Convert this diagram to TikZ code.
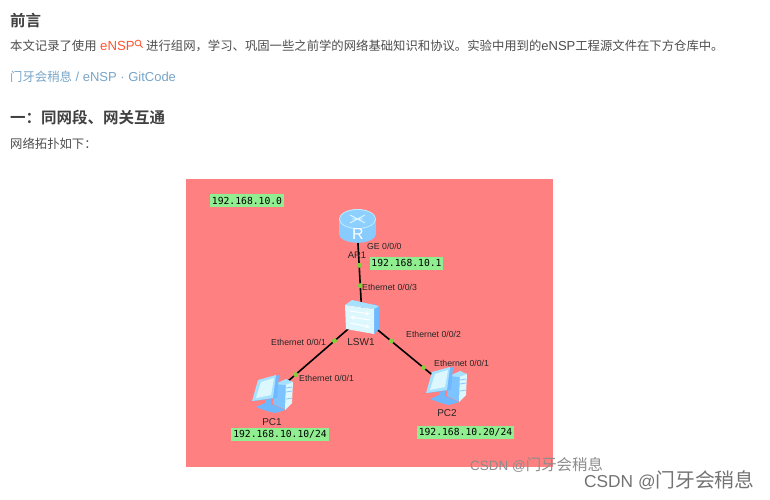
\documentclass[tikz,border=0pt]{standalone}
\usepackage{fontspec}
\setmainfont{Liberation Sans}
\setmonofont{DejaVu Sans Mono}
\newfontfamily\cjk{Noto Sans CJK SC}
\newfontfamily\cjkb{Noto Sans CJK SC Bold}
\newcommand{\fs}[1]{\fontsize{#1}{#1}\selectfont}
\newcommand{\lat}{\fontspec{Liberation Sans}}
\definecolor{bodytxt}{HTML}{4D4D4D}
\definecolor{headtxt}{HTML}{404040}
\definecolor{linktxt}{HTML}{78A5C8}
\definecolor{hot}{HTML}{FC5531}
\definecolor{panel}{HTML}{FF8080}
\definecolor{tag}{HTML}{90EE90}
\definecolor{dotc}{HTML}{7FD03A}
\definecolor{iconA}{HTML}{A6E2FF}
\definecolor{iconB}{HTML}{6FB8FF}
\definecolor{iconC}{HTML}{DDF7FF}
\tikzset{
  x=1pt,y=-1pt,
  body/.style={anchor=west,inner sep=0pt,text=bodytxt,font=\cjk\fs{12.35}},
  head/.style={anchor=west,inner sep=0pt,text=headtxt,font=\cjkb\fs{15.5}},
  tagbox/.style={fill=tag,inner sep=0pt,minimum height=13pt,font=\ttfamily\fs{9.7},text=black},
  port/.style={anchor=west,inner sep=0pt,text=black!85,font=\fs{8.7}},
  devname/.style={inner sep=0pt,text=black!85,font=\fs{10}},
  anchorbox/.style={inner sep=0pt,minimum size=2pt},
  link/.style={line width=1.6pt,black},
  dotmark/.style={circle,fill=dotc,inner sep=0pt,minimum size=5pt},
  mark wm/.style={inner sep=0pt,text=black!45}
}
\newcommand{\pcicon}[2]{%
\begin{scope}[shift={(#1,#2)}]
  % tower
  \fill[iconB!75!iconA] (22,-11) -- (33,-16) -- (33,14) -- (20,8) -- cycle;
  \fill[iconC] (33,-15) -- (40,-14) -- (39,7) -- (32,14) -- cycle;
  \fill[iconA] (22,-12) -- (33,-17) -- (40,-14) -- (32,-11) -- cycle;
  \draw[iconB!60!iconA,line width=.8pt] (33,-8) -- (39,-9) (33,-4) -- (39,-5) (33,3) -- (39,2);
  % stand
  \fill[iconB] (12,4) -- (18,3) -- (18,8) -- (32,14) -- (22,17) -- (14,15) -- (3,11) -- (12,7) -- cycle;
  % monitor
  \fill[iconB] (7,-16) -- (26,-21) -- (24,2) -- (1,5) -- cycle;
  \fill[iconA] (5,-16) -- (23,-21) -- (20,2) -- (-1,5) -- cycle;
  \fill[iconC] (8,-14) -- (21,-18) -- (18,-1) -- (3,2) -- cycle;
\end{scope}}
\begin{document}
\begin{tikzpicture}
\useasboundingbox (0,0) rectangle (770,499);
\fill[white] (0,0) rectangle (770,499);

% article text
\node[head] (t1) at (10,20.5) {前言};
\node[body] (t2) at (10,45.5) {本文记录了使用};
\node[body,text=hot,font=\fs{13.2}] (t3) at (100,45.5) {eNSP};
\draw[hot,line width=.8pt] (138,43) circle (2.9) (140.2,45.2) -- (142.6,47.6);
\node[body] (t4) at (146,45.5) {进行组网，学习、巩固一些之前学的网络基础知识和协议。实验中用到的{\lat\fs{13}eNSP}工程源文件在下方仓库中。};
\node[body,text=linktxt] (t5) at (10,76.5) {门牙会稍息{\lat\fs{13} / eNSP · GitCode}};
\node[head] (t6) at (10,117.5) {一：同网段、网关互通};
\node[body] (t7) at (10,143.5) {网络拓扑如下：};

% topology panel
\fill[panel] (186,179) rectangle (553,467);

\node[anchorbox] (router) at (357,226) {};
\node[anchorbox] (switch) at (362,317) {};
\node[anchorbox] (pc1) at (272,395) {};
\node[anchorbox] (pc2) at (447,387) {};

\draw[link] (router) -- node[dotmark,pos=.43] (d1) {} node[dotmark,pos=.66] (d2) {} (switch);
\draw[link] (switch) -- node[dotmark,pos=.3] (d3) {} node[dotmark,pos=.744] (d4) {} (pc1);
\draw[link] (switch) -- node[dotmark,pos=.34] (d5) {} node[dotmark,pos=.73] (d6) {} (pc2);

% router icon
\fill[iconB!55!iconA] (357.5,234) ellipse[x radius=18.5,y radius=8.8];
\fill[iconB!55!iconA] (339,219) rectangle (376,234);
\fill[iconA!70!white] (357.5,219) ellipse[x radius=18.5,y radius=10];
\fill[iconB!45!iconA] (357.5,219) ellipse[x radius=17.5,y radius=9];
\draw[iconC,line width=.9pt] (350,215) -- (365,223) (365,215) -- (350,223) (352,219) -- (363,219);
\node[inner sep=0pt,text=white,font=\fs{16}] (rlabel) at (358,234) {R};

% switch icon
\fill[iconB] (374,304) -- (379,307) -- (379,329) -- (374,334) -- cycle;
\fill[iconA] (345,305) -- (352,300) -- (379,306) -- (374,309) -- cycle;
\fill[iconC] (345,305) -- (374,309) -- (374,334) -- (346,329) -- cycle;
\draw[white,line width=1pt,-stealth] (350,311) -- (370,314);
\draw[white,line width=1pt,stealth-] (350,317) -- (370,320);
\draw[white,line width=1pt,-stealth] (350,323) -- (370,327);

% computers
\pcicon{253}{396}
\pcicon{427}{388}

% tags
\node[tagbox,minimum width=74pt] (n0) at (247,200.5) {192.168.10.0};
\node[tagbox,minimum width=73pt] (n1) at (406.5,263) {192.168.10.1};
\node[tagbox,minimum width=98pt] (n2) at (280,434.5) {192.168.10.10/24};
\node[tagbox,minimum width=97pt] (n3) at (465.5,432.5) {192.168.10.20/24};

% labels
\node[port] (p1) at (367,246) {GE 0/0/0};
\node[devname,font=\fs{9.5}] (l1) at (357,255) {AR1};
\node[port] (p2) at (362,287) {Ethernet 0/0/3};
\node[port] (p3) at (271,342) {Ethernet 0/0/1};
\node[port] (p4) at (406,334.5) {Ethernet 0/0/2};
\node[port] (p5) at (299,378) {Ethernet 0/0/1};
\node[port] (p6) at (434,363.5) {Ethernet 0/0/1};
\node[devname] (l2) at (361,342) {LSW1};
\node[devname] (l3) at (272,422) {PC1};
\node[devname] (l4) at (447,413) {PC2};

% watermarks
\node[mark wm,anchor=west] (w1) at (470,465) {\fs{13.5}CSDN @\cjk\fs{15.4}门牙会稍息};
\node[mark wm,anchor=west,text=black!55] (w2) at (584,480) {\fs{17.3}CSDN @\cjk\fs{19.8}门牙会稍息};
\end{tikzpicture}
\end{document}
